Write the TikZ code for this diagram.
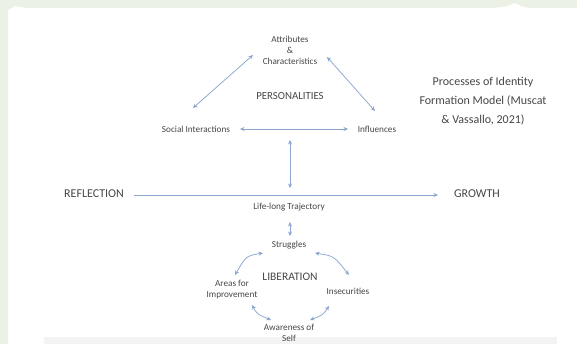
\documentclass[tikz,border=0pt]{standalone}
\usepackage{fontspec}
\setmainfont{Carlito}
\usetikzlibrary{arrows.meta}
\definecolor{arrowblue}{HTML}{8AA6CE}
\definecolor{txt}{HTML}{474747}
\definecolor{bggreen}{HTML}{EBF1E5}
\definecolor{bggrey}{HTML}{F3F3F3}
\tikzset{
  lbl/.style={inner sep=1pt, text=txt, font=\fontsize{9.2}{11}\selectfont, align=center},
  captxt/.style={inner sep=1pt, text=txt, font=\fontsize{10.8}{12}\selectfont},
  bigcap/.style={inner sep=1pt, text=txt, font=\fontsize{12}{14}\selectfont},
  ttl/.style={inner sep=1pt, text=txt, font=\fontsize{12}{19}\selectfont, align=center},
  dbl/.style={draw=arrowblue, line width=0.75pt, {Stealth[length=4.5pt,width=4pt]}-{Stealth[length=4.5pt,width=4pt]}},
  sgl/.style={draw=arrowblue, line width=0.75pt, -{Stealth[length=4.5pt,width=4pt]}}
}
\begin{document}
\begin{tikzpicture}[x=1pt,y=-1pt]
\useasboundingbox (0,0) rectangle (577,344);
% background
\fill[white] (0,0) rectangle (577,344);
\fill[bggreen] (0,0) -- (577,0) -- (577,8) -- (540,8) .. controls (525,8) .. (515,3) .. controls (505,7) .. (490,8) -- (40,8) .. controls (25,8) .. (15,6) -- (8,10) -- (8,344) -- (0,344) -- cycle;
\fill[bggrey] (44,337) rectangle (557,344);

% nodes
\node[lbl] (attr) at (290,50) {Attributes\\\&\\Characteristics};
\node[captxt] (pers) at (290,96) {PERSONALITIES};
\node[ttl] (title) at (483,101) {Processes of Identity\\Formation Model (Muscat\\\& Vassallo, 2021)};
\node[lbl] (si) at (196,129) {Social Interactions};
\node[lbl] (inf) at (377,129) {Influences};
\node[bigcap] (refl) at (94,194) {REFLECTION};
\node[bigcap] (grow) at (477,194) {GROWTH};
\node[lbl] (life) at (289,207) {Life-long Trajectory};
\node[lbl] (strug) at (289,245) {Struggles};
\node[captxt, font=\fontsize{11.5}{13}\selectfont] (lib) at (290,277) {LIBERATION};
\node[lbl] (areas) at (232,290) {Areas for\\Improvement};
\node[lbl] (insec) at (348,291) {Insecurities};
\node[lbl] (aware) at (289,333) {Awareness of\\Self};

% connector end points
\coordinate (a1) at (253,55); \coordinate (a2) at (193,108);
\coordinate (b1) at (327,57); \coordinate (b2) at (375,111);
\coordinate (c1) at (240,129); \coordinate (c2) at (348,129);
\coordinate (d1) at (290,140); \coordinate (d2) at (290,188);
\coordinate (e1) at (134,195); \coordinate (e2) at (438,195);
\coordinate (f1) at (290,222); \coordinate (f2) at (290,236);
\coordinate (g1) at (263,253); \coordinate (g2) at (235,275);
\coordinate (h1) at (315,253); \coordinate (h2) at (349,275);
\coordinate (i1) at (252,305); \coordinate (i2) at (271,320);
\coordinate (j1) at (329,306); \coordinate (j2) at (310,320);

% connectors
\draw[dbl] (a1) -- (a2);
\draw[dbl] (b1) -- (b2);
\draw[dbl] (c1) -- (c2);
\draw[dbl] (d1) -- (d2);
\draw[sgl] (e1) -- (e2);
\draw[dbl] (f1) -- (f2);
\draw[dbl] (g1) .. controls (246,256) .. (g2);
\draw[dbl] (h1) .. controls (334,256) .. (h2);
\draw[dbl] (i1) .. controls (257,314) .. (i2);
\draw[dbl] (j1) .. controls (323,315) .. (j2);
\end{tikzpicture}
\end{document}
